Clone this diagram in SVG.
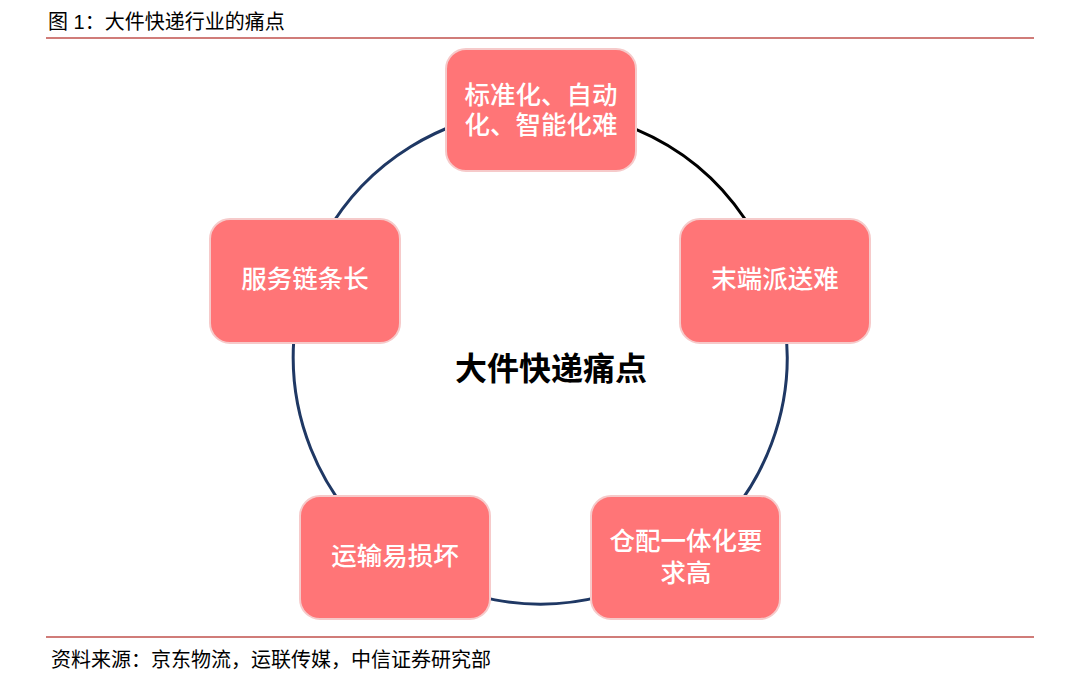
<svg xmlns="http://www.w3.org/2000/svg" width="1080" height="679" viewBox="0 0 1080 679">
<defs>
<style>
.cap{font-family:"Liberation Sans","Noto Sans CJK SC",sans-serif;font-size:20px;fill:#000}
.rule{stroke:#C0504D;stroke-width:1.3}
.box{fill:#FF7577;stroke:#F6CACA;stroke-width:2}
.lbl{font-family:"Noto Sans CJK SC",sans-serif;font-size:25.5px;font-weight:500;fill:#fff;text-anchor:middle}
.ring{fill:none;stroke:#1F3864;stroke-width:3}
.ringk{fill:none;stroke:#000;stroke-width:3}
</style>
</defs>
<rect width="1080" height="679" fill="#fff"/>
<text class="cap" x="48" y="29">图 1：大件快递行业的痛点</text>
<line class="rule" x1="46" y1="38" x2="1034" y2="38"/>
<line class="rule" x1="46" y1="637" x2="1034" y2="637"/>
<text class="cap" x="51" y="667">资料来源：京东物流，运联传媒，中信证券研究部</text>
<g id="connectors">
<path class="ring" d="M745,219 A247,247 0 1 1 636,129.4"/>
<path class="ringk" d="M636,129.4 A247,247 0 0 1 745,219"/>
</g>
<text x="551" y="380" font-family="Noto Sans CJK SC,sans-serif" font-size="32" font-weight="bold" text-anchor="middle" fill="#000">大件快递痛点</text>
<g id="n1">
<rect class="box" x="446" y="49" width="190" height="122" rx="20"/>
<text class="lbl"><tspan x="541" y="104">标准化、自动</tspan><tspan x="541" y="134">化、智能化难</tspan></text>
</g>
<g id="n2">
<rect class="box" x="680" y="219" width="190" height="124" rx="20"/>
<text class="lbl" x="775" y="288">末端派送难</text>
</g>
<g id="n3">
<rect class="box" x="591" y="496" width="189" height="123" rx="20"/>
<text class="lbl"><tspan x="686" y="550">仓配一体化要</tspan><tspan x="686" y="582">求高</tspan></text>
</g>
<g id="n4">
<rect class="box" x="300" y="496" width="190" height="123" rx="20"/>
<text class="lbl" x="395" y="565">运输易损坏</text>
</g>
<g id="n5">
<rect class="box" x="210" y="219" width="190" height="124" rx="20"/>
<text class="lbl" x="305" y="288">服务链条长</text>
</g>
</svg>
